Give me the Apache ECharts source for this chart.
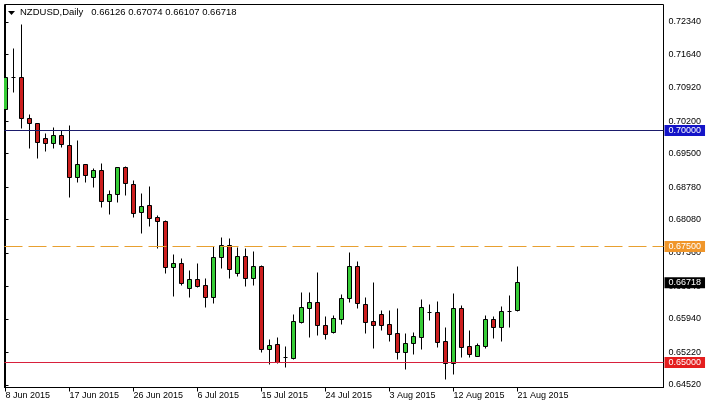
<!DOCTYPE html>
<html><head><meta charset="utf-8">
<script src="https://cdn.jsdelivr.net/npm/echarts@6/dist/echarts.min.js"></script>
<style>html,body{margin:0;padding:0;background:#fff}#c{width:708px;height:408px}</style>
</head><body><div id="c"></div>
<script>
const symbolName = 'NZDUSD,Daily';
const dates = [
'2015-06-08','2015-06-09','2015-06-10','2015-06-11','2015-06-12',
'2015-06-14','2015-06-15','2015-06-16','2015-06-17','2015-06-18','2015-06-19',
'2015-06-21','2015-06-22','2015-06-23','2015-06-24','2015-06-25','2015-06-26',
'2015-06-28','2015-06-29','2015-06-30','2015-07-01','2015-07-02','2015-07-03',
'2015-07-05','2015-07-06','2015-07-07','2015-07-08','2015-07-09','2015-07-10',
'2015-07-12','2015-07-13','2015-07-14','2015-07-15','2015-07-16','2015-07-17',
'2015-07-19','2015-07-20','2015-07-21','2015-07-22','2015-07-23','2015-07-24',
'2015-07-26','2015-07-27','2015-07-28','2015-07-29','2015-07-30','2015-07-31',
'2015-08-02','2015-08-03','2015-08-04','2015-08-05','2015-08-06','2015-08-07',
'2015-08-09','2015-08-10','2015-08-11','2015-08-12','2015-08-13','2015-08-14',
'2015-08-16','2015-08-17','2015-08-18','2015-08-19','2015-08-20','2015-08-21'
];
const opens = [
0.70453,0.71140,0.71142,0.70252,0.70144,0.69821,0.69713,0.69886,0.69677,0.68981,
0.69261,0.68981,0.69138,0.68470,0.68621,0.69203,0.68830,0.68241,0.68384,0.68125,
0.68039,0.67054,0.67127,0.66588,0.66789,0.66659,0.66407,0.67256,0.67515,0.66912,
0.67284,0.66804,0.67069,0.65274,0.65382,0.65101,0.65093,0.65869,0.66157,0.66293,
0.65791,0.65640,0.65933,0.66373,0.67069,0.66250,0.65884,0.66034,0.65819,0.65619,
0.65222,0.65405,0.65545,0.66084,0.66071,0.65453,0.64985,0.66157,0.65351,0.65138,
0.65351,0.65922,0.65761,0.66106,0.66126
];
const highs = [
0.71563,0.71761,0.72285,0.70345,0.70157,0.69942,0.70058,0.70000,0.70108,0.69784,
0.69267,0.69175,0.69282,0.68707,0.69209,0.69224,0.68933,0.68649,0.68793,0.68168,
0.68060,0.67328,0.67235,0.66983,0.67127,0.66804,0.67506,0.67687,0.67666,0.67485,
0.67450,0.67399,0.67091,0.65496,0.65532,0.65338,0.66034,0.66502,0.66502,0.66933,
0.65991,0.66013,0.66466,0.67364,0.67177,0.66394,0.66718,0.66121,0.66121,0.66157,
0.65619,0.65640,0.66351,0.66243,0.66315,0.65761,0.66481,0.66228,0.65690,0.65403,
0.66013,0.65998,0.66207,0.66444,0.67074
];
const lows = [
0.70388,0.70825,0.70037,0.69606,0.69390,0.69554,0.69606,0.69627,0.68562,0.68873,
0.68873,0.68778,0.68334,0.68185,0.68455,0.68599,0.68131,0.67787,0.67931,0.67450,
0.66912,0.66429,0.66659,0.66407,0.66623,0.66179,0.66278,0.67019,0.66804,0.66853,
0.66644,0.66659,0.65222,0.64957,0.64972,0.64903,0.65065,0.65834,0.65545,0.65582,
0.65496,0.65619,0.65812,0.66300,0.66170,0.65632,0.65308,0.65679,0.65463,0.65065,
0.64849,0.65172,0.65274,0.65905,0.65330,0.64634,0.64741,0.65114,0.65114,0.65125,
0.65308,0.65524,0.65453,0.65761,0.66107
];
const closes = [
0.71149,0.71135,0.70252,0.70144,0.69735,0.69713,0.69886,0.69692,0.68981,0.69261,
0.69024,0.69138,0.68470,0.68614,0.69196,0.68851,0.68205,0.68362,0.68110,0.68045,
0.67054,0.67127,0.66709,0.66782,0.66644,0.66407,0.67256,0.67515,0.66998,0.67278,
0.66804,0.67069,0.65274,0.65360,0.65006,0.65098,0.65884,0.66179,0.66293,0.65791,
0.65597,0.65942,0.66373,0.67069,0.66265,0.65869,0.65797,0.65808,0.65614,0.65222,
0.65405,0.65567,0.66179,0.66080,0.65437,0.64985,0.66170,0.65330,0.65166,0.65366,
0.65922,0.65761,0.66099,0.66110,0.66718
];
const yTickValues = [0.72340,0.71640,0.70920,0.70200,0.69500,0.68780,0.68080,0.67360,0.66640,0.65940,0.65220,0.64520];
const xTickIndex = [0,8,16,24,32,40,48,56,64];
const levelLines = [0.70000, 0.67500, 0.65000];
const lastPrice = 0.66718;
const months = ['Jan','Feb','Mar','Apr','May','Jun','Jul','Aug','Sep','Oct','Nov','Dec'];

const FONT = 'Liberation Sans';
const GREEN = '#36cc36';
const RED = '#cc1e1e';

function fmtDate(s){
  const p = s.split('-');
  return (+p[2]) + ' ' + months[+p[1]-1] + ' ' + p[0];
}

const candleData = dates.map((d,i)=>[i, opens[i], closes[i], lows[i], highs[i]]);

function renderCandle(params, api){
  const i = api.value(0), o = api.value(1), c = api.value(2), l = api.value(3), h = api.value(4);
  const pO = api.coord([i,o]), pC = api.coord([i,c]), pL = api.coord([i,l]), pH = api.coord([i,h]);
  const snap = v => Math.floor(v) + 0.5;
  const px = snap(pO[0]);
  const yo = pO[1], yc = pC[1];
  const top = snap(Math.min(yo,yc)), bot = snap(Math.max(yo,yc));
  const children = [{
    type:'line', shape:{x1:px, y1:snap(pH[1]), x2:px, y2:snap(pL[1])},
    style:{stroke:'#000', lineWidth:1}
  }];
  if (Math.abs(yo-yc) < 1.5) {
    children.push({type:'line', shape:{x1:px-2, y1:snap((yo+yc)/2), x2:px+2, y2:snap((yo+yc)/2)}, style:{stroke:'#000', lineWidth:1}});
  } else {
    children.push({type:'rect', shape:{x:px-2, y:top, width:4, height:bot-top},
      style:{fill: c>=o ? GREEN : RED, stroke:'#000', lineWidth:1}});
  }
  return {type:'group', children};
}

const chart = echarts.init(document.getElementById('c'), null, {renderer:'canvas'});
const lineColors = ['#1b1b6b', '#e8a030', '#d8203c'];
const boxColors = ['#1414c8', '#f0962a', '#e41e1e'];
const lineTypes = ['solid', [18,6], 'solid'];
const markData = levelLines.map((v,k)=>({
  yAxis: v,
  lineStyle:{color:lineColors[k], type:lineTypes[k], width:1, opacity:1},
  label:{backgroundColor:boxColors[k]}
}));
markData.push({yAxis:lastPrice, lineStyle:{color:'rgba(0,0,0,0)', width:1}, label:{backgroundColor:'#000'}});

chart.setOption({
  animation:false,
  backgroundColor:'#fff',
  title:{
    text: symbolName + '   ' + [opens[64],highs[64],lows[64],closes[64]].map(v=>v.toFixed(5)).join(' '),
    left:20, top:7, padding:0,
    textStyle:{fontSize:9.5, fontWeight:'normal', color:'#000', fontFamily:FONT}
  },
  graphic:[{type:'polygon', shape:{points:[[8,11],[15,11],[11.5,15]]}, style:{fill:'#000'}}],
  grid:{left:4.5, right:44.5, top:4.5, bottom:20.5, show:true, borderColor:'#000', borderWidth:1, backgroundColor:'transparent'},
  xAxis:{
    type:'value', min:-0.125, max:82.25,
    axisLine:{show:true, lineStyle:{color:'#000'}},
    axisTick:{show:true, customValues:xTickIndex, length:4, lineStyle:{color:'#000'}},
    axisLabel:{customValues:xTickIndex, formatter:v=>fmtDate(dates[Math.round(v)]), align:'left', margin:4,
      fontSize:9, color:'#000', fontFamily:FONT},
    splitLine:{show:false}
  },
  yAxis:{
    type:'value', position:'right', min:0.6446121, max:0.7271552, scale:true,
    axisLine:{show:true, lineStyle:{color:'#000'}},
    axisTick:{show:true, customValues:yTickValues, length:3, lineStyle:{color:'#000'}},
    axisLabel:{customValues:yTickValues, formatter:v=>v.toFixed(5), margin:5, fontSize:9, color:'#000', fontFamily:FONT},
    splitLine:{show:false}
  },
  series:[
    {
      type:'custom', name:'NZDUSD', clip:true,
      renderItem:renderCandle,
      encode:{x:0, y:[1,2,3,4]},
      data:candleData
    },
    {
      type:'line', data:[], clip:false, silent:true,
      markLine:{
        silent:true, symbol:['none','none'], animation:false, precision:5,
        emphasis:{disabled:true},
        label:{show:true, position:'end', distance:1, formatter:p=>Number(p.value).toFixed(5),
          color:'#fff', fontSize:9, fontFamily:FONT, padding:[1,4,0,4], lineHeight:10},
        data:markData
      }
    }
  ]
});
</script></body></html>
